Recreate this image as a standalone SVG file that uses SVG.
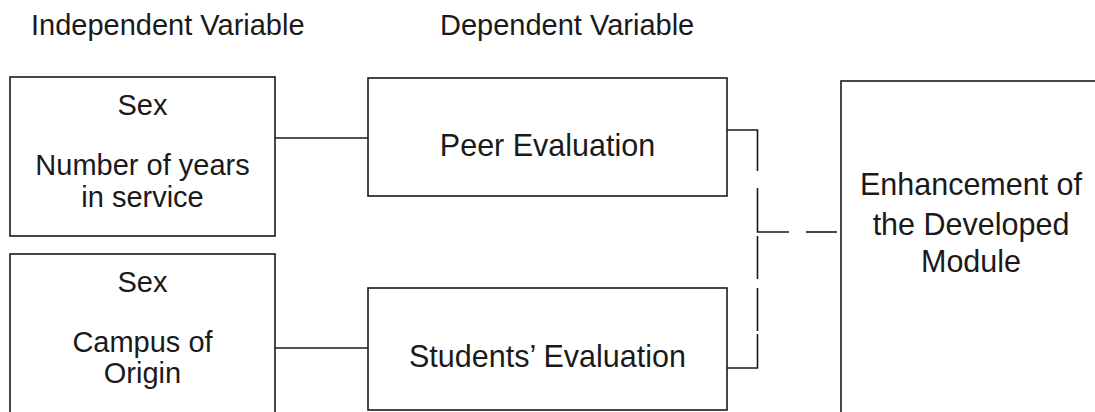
<svg xmlns="http://www.w3.org/2000/svg" width="1095" height="412" viewBox="0 0 1095 412">
<style>
.box{fill:#fff;stroke:#1a1a1a;stroke-width:1.6}
.t{font-family:"Liberation Sans",Arial,sans-serif;fill:#1a1a1a;text-anchor:middle}
.s{font-size:29px}
.m{font-size:30.5px}
.h{font-family:"Liberation Sans",Arial,sans-serif;fill:#1a1a1a;font-size:29px}
.c{fill:none;stroke:#1a1a1a;stroke-width:1.6}
</style>
<rect width="1095" height="412" fill="#fff"/>
<g id="headers">
<text class="h" x="31" y="35">Independent Variable</text>
<text class="h" x="440" y="35">Dependent Variable</text>
</g>
<g id="connectors">
<path class="c" d="M275,138 H368"/>
<path class="c" d="M275,348 H368"/>
<path class="c" d="M727,130 H757.5 V171"/>
<path class="c" d="M757.5,188 V232 H789"/>
<path class="c" d="M806,232 H837"/>
<path class="c" d="M757.5,236 V279"/>
<path class="c" d="M757.5,288 V331"/>
<path class="c" d="M757.5,334 V368 H727"/>
</g>
<g id="iv1">
<rect class="box" x="10" y="77" width="265" height="159"/>
<text class="t s" x="142.5" y="115">Sex</text>
<text class="t s" x="142.5" y="175">Number of years</text>
<text class="t s" x="142.5" y="207">in service</text>
</g>
<g id="iv2">
<rect class="box" x="10" y="254" width="265" height="170"/>
<text class="t s" x="142.5" y="292">Sex</text>
<text class="t s" x="142.5" y="352">Campus of</text>
<text class="t s" x="142.5" y="383">Origin</text>
</g>
<g id="peer">
<rect class="box" x="368" y="78" width="359" height="118"/>
<text class="t m" x="547.5" y="156">Peer Evaluation</text>
</g>
<g id="students">
<rect class="box" x="368" y="288" width="359" height="122"/>
<text class="t m" x="547.5" y="367">Students’ Evaluation</text>
</g>
<g id="enhancement">
<rect class="box" x="841" y="81" width="300" height="340"/>
<text class="t m" x="971" y="195">Enhancement of</text>
<text class="t m" x="971" y="235">the Developed</text>
<text class="t m" x="971" y="272">Module</text>
</g>
</svg>
